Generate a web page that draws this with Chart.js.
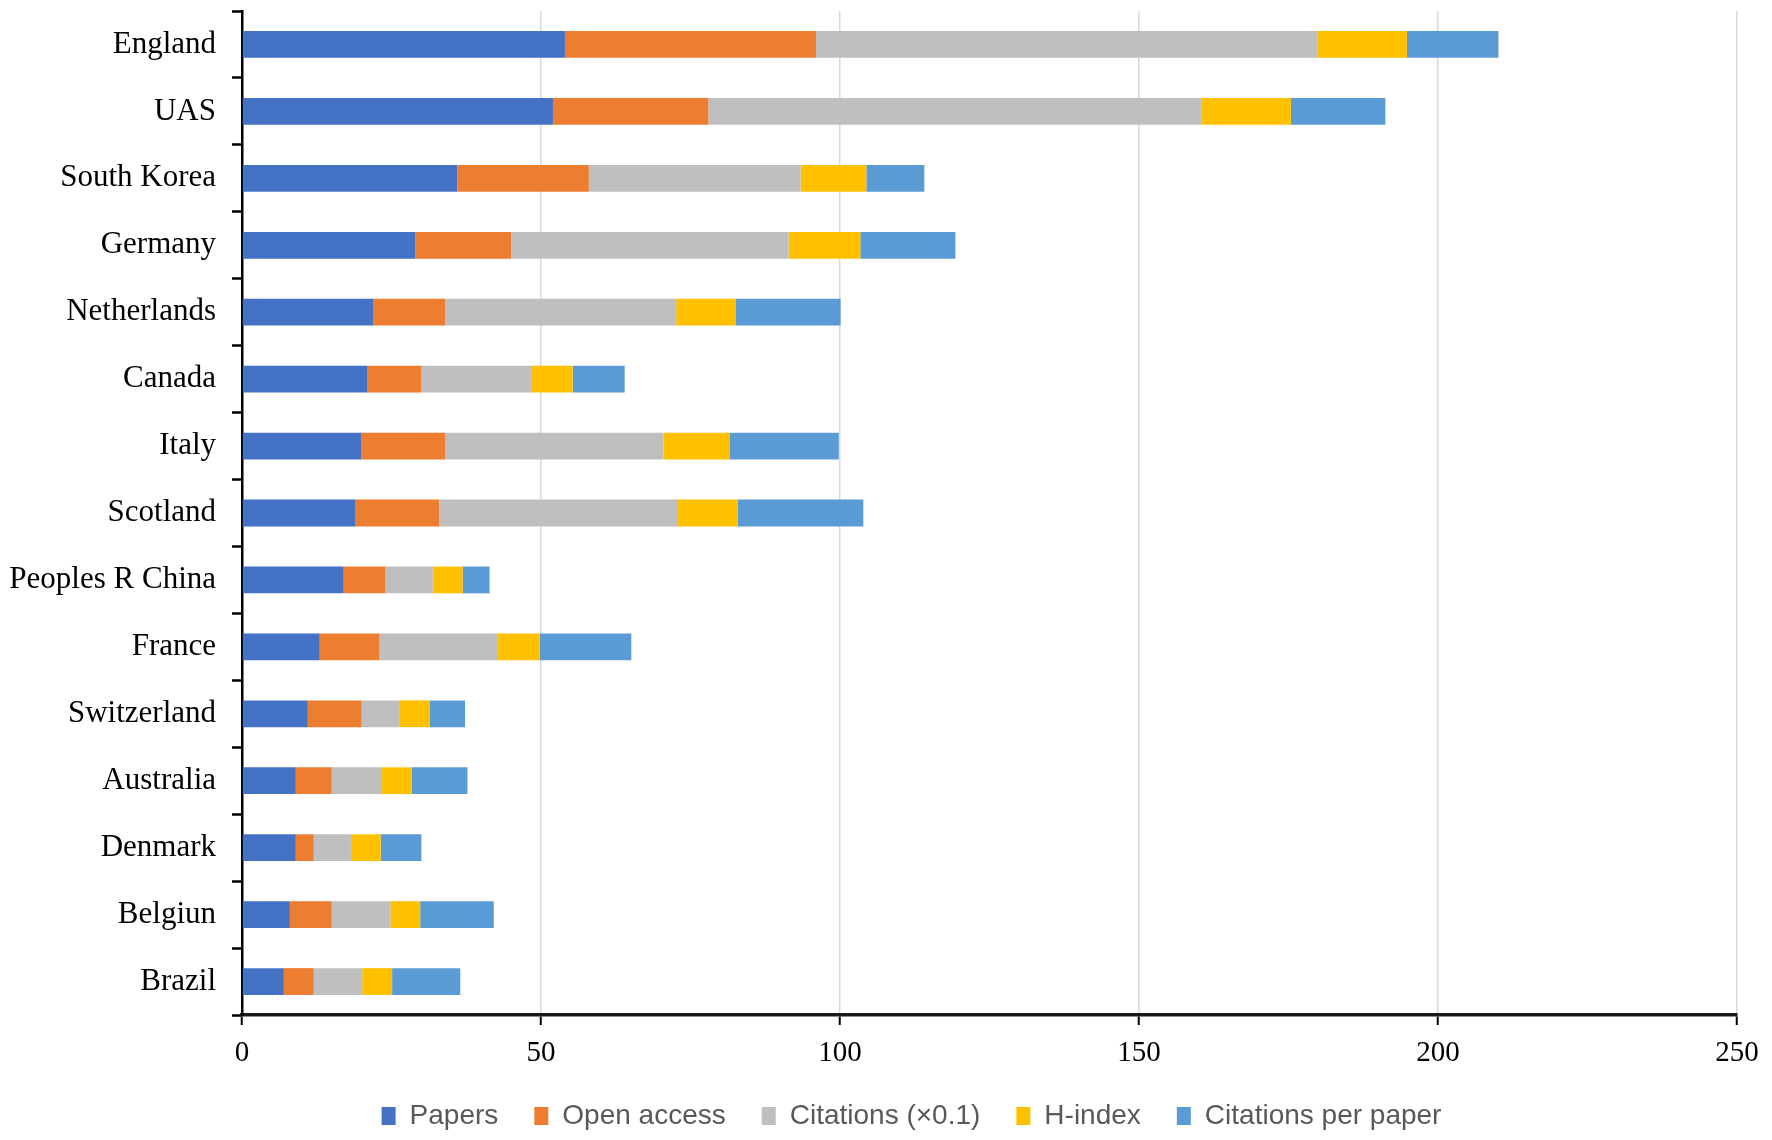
<!DOCTYPE html>
<html>
<head>
<meta charset="utf-8">
<title>Stacked bars by country</title>
<script src="https://cdn.jsdelivr.net/npm/chart.js@4.4.1/dist/chart.umd.min.js"></script>
<style>
    html, body { margin: 0; padding: 0; background: #fff; }
    #wrap { width: 1772px; height: 1140px; }
</style>
</head>
<body>
<div id="wrap"><canvas id="countryChart" width="1772" height="1140"></canvas></div>
<script>
// Data (top to bottom)
const countries = ['England', 'UAS', 'South Korea', 'Germany', 'Netherlands', 'Canada', 'Italy',
    'Scotland', 'Peoples R China', 'France', 'Switzerland', 'Australia', 'Denmark', 'Belgiun', 'Brazil'];
const papers = [54, 52, 36, 29, 22, 21, 20, 19, 17, 13, 11, 9, 9, 8, 7];
const openAccess = [42, 26, 22, 16, 12, 9, 14, 14, 7, 10, 9, 6, 3, 7, 5];
const citations = [83.8, 82.4, 35.4, 46.4, 38.6, 18.3, 36.5, 39.9, 7.9, 19.8, 6.4, 8.4, 6.2, 9.8, 8.1];
const hIndex = [15, 15, 11, 12, 10, 7, 11, 10, 5, 7, 5, 5, 5, 5, 5];
const citationsPerPaper = [15.3, 15.8, 9.7, 15.9, 17.5, 8.7, 18.3, 21.0, 4.5, 15.3, 5.9, 9.3, 6.8, 12.3, 11.4];
const xTicks = [0, 50, 100, 150, 200, 250];

document.addEventListener('DOMContentLoaded', function() {
    const serif = '"Liberation Serif", "Times New Roman", serif';

    function series(label, data, color) {
        return {
            label: label,
            data: data,
            backgroundColor: color,
            borderWidth: 0,
            categoryPercentage: 0.8,
            barPercentage: 0.5
        };
    }

    // The legend in the figure sits a bit right of the canvas centre
    const legendShift = {
        id: 'legendShift',
        afterLayout(chart) {
            if (chart.legend) {
                chart.legend.left += 43;
                chart.legend.right += 43;
            }
        }
    };

    const ctx = document.getElementById('countryChart').getContext('2d');
    new Chart(ctx, {
        type: 'bar',
        data: {
            labels: countries,
            datasets: [
                series('Papers', papers, '#4472C4'),
                series('Open access', openAccess, '#ED7D31'),
                series('Citations (\u00d70.1)', citations, '#BFBFBF'),
                series('H-index', hIndex, '#FFC000'),
                series('Citations per paper', citationsPerPaper, '#5B9BD5')
            ]
        },
        options: {
            indexAxis: 'y',
            responsive: false,
            devicePixelRatio: 1,
            animation: false,
            layout: {
                padding: { top: 11, right: 35, bottom: 0, left: 0 }
            },
            scales: {
                x: {
                    stacked: true,
                    min: xTicks[0],
                    max: xTicks[xTicks.length - 1],
                    afterBuildTicks: function(scale) {
                        scale.ticks = xTicks.map(v => ({ value: v }));
                    },
                    afterFit: function(scale) {
                        scale.height = 51;
                    },
                    grid: {
                        color: '#d9d9d9',
                        lineWidth: 1.5,
                        tickColor: '#000',
                        tickLength: 10,
                        tickWidth: 2
                    },
                    border: { color: '#1a1a1a', width: 3.5 },
                    ticks: {
                        color: '#000',
                        padding: 11,
                        font: { family: serif, size: 29 }
                    }
                },
                y: {
                    stacked: true,
                    afterFit: function(scale) {
                        scale.width = 242;
                        scale.paddingTop = 0;
                        scale.paddingBottom = 0;
                    },
                    grid: {
                        drawOnChartArea: false,
                        tickColor: '#000',
                        tickLength: 10,
                        tickWidth: 2.5
                    },
                    border: { color: '#000', width: 2.5 },
                    ticks: {
                        color: '#000',
                        padding: 16,
                        font: { family: serif, size: 31 }
                    }
                }
            },
            plugins: {
                legend: {
                    position: 'bottom',
                    labels: {
                        color: '#595959',
                        boxWidth: 14,
                        boxHeight: 18,
                        padding: 36,
                        font: { family: '"Liberation Sans", Arial, sans-serif', size: 28 }
                    }
                },
                tooltip: { enabled: false }
            }
        },
        plugins: [legendShift]
    });
});
</script>
</body>
</html>
